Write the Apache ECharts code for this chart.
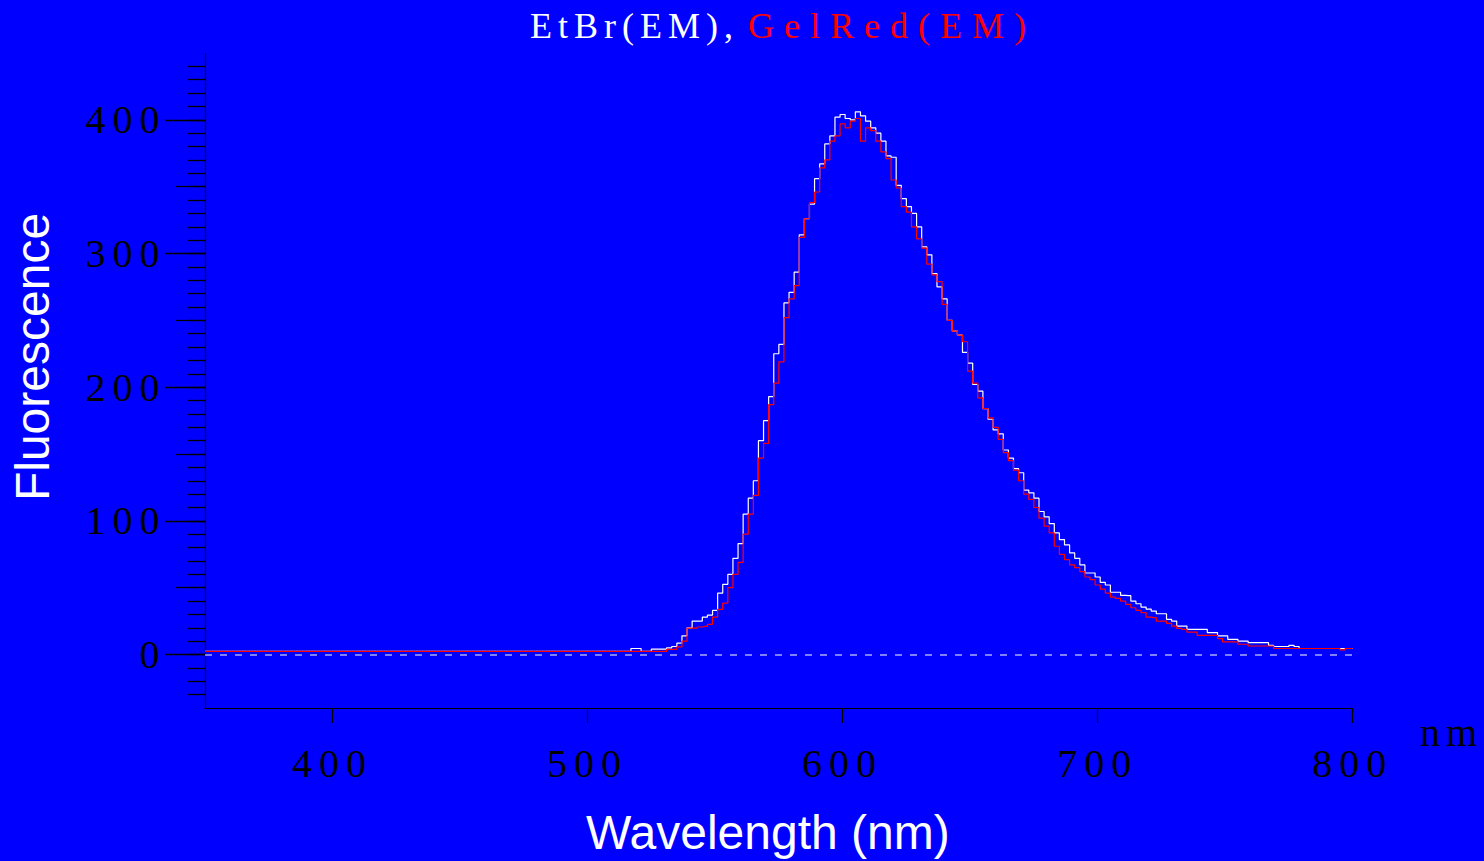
<!DOCTYPE html>
<html>
<head>
<meta charset="utf-8">
<script src="https://cdn.jsdelivr.net/npm/echarts@6/dist/echarts.min.js"></script>
<style>
  html, body { margin: 0; padding: 0; background: #0000ff; }
  #chart { width: 1484px; height: 861px; }
</style>
</head>
<body>
<div id="chart"></div>
<script>
// Wavelength sample positions (nm)
const wavelengths = [
  350,
  516,518,520,522,524,526,528,530,532,534,
  536,538,540,542,544,546,548,550,552,554,
  556,558,560,562,564,566,568,570,572,574,
  576,578,580,582,584,586,588,590,592,594,
  596,598,600,602,604,606,608,610,612,614,
  616,618,620,622,624,626,628,630,632,634,
  636,638,640,642,644,646,648,650,652,654,
  656,658,660,662,664,666,668,670,672,674,
  676,678,680,682,684,686,688,690,692,694,
  696,698,700,702,704,706,708,710,712,714,
  716,718,720,722,724,726,728,730,732,734,
  736,738,740,742,744,746,748,750,752,754,
  756,758,760,762,764,766,768,770,772,774,
  776,778,780,782,784,786,788,790,792,794,
  796,798,800
];
// EtBr (EM) fluorescence, white trace
const etbr = [
  2.3,
  2.3,4.5,4.5,2.3,2.3,4,4,4,5,6,
  8.5,14,20,25,25,28,29.5,33,46,52.5,
  60,72,83,105,117,130,160,175,193,225,
  232,263,271,286,314,326,337,356,367,382,
  388,402,404,401,400,406,403,399,394,390,
  384,373,372,351,341,335,330,320,305,299,
  285,275,266,250,242,239,226,218,202,197,
  184,176,168,165,153,147,139,136,123,121,
  117,107,103,98,91,86,82,76,72,67,
  61,61,58,54,52,46.6,46.6,44.2,44,40,
  38,35.5,34,32.5,30.5,30.5,26.3,25,21.3,21.3,
  18.8,18.8,18.8,18.8,16.4,16.4,13.9,13.9,11.4,11.4,
  10.1,10.1,8.9,8.9,8.9,8.9,6.9,6,6,6,
  6.9,6,4.5,4.5,4.5,4.5,4.5,4.5,4.5,4.5,
  4.5,4.5,4.5
];
// GelRed (EM) fluorescence, red trace
const gelred = [
  2.3,
  2.3,2.3,2.3,2.3,2.3,2.3,2.3,2.3,3.8,3.8,
  5.7,10,19.7,19.7,20.6,21,22.6,28,33.8,38.5,
  50,60,69,90,105,119,147,158,187,203,
  219,252,266,276,312,326,338,346,364,370,
  384,388,397,394,399,401,384,394,392,384,
  376,371,355,349,335,331,320,311,304,292,
  284,279,262,250,242,239,234,212,203,192,
  184,177,170,161,151,145,138,130,120,116,
  110,102,96,91,81,75,71,67,65,62,
  58,56,52,49,46,43,42,40,37.5,35,
  33,31.3,28,27.6,25,25,23.3,21.3,19.5,18.8,
  16.8,16.8,14.4,14.4,14.4,14.4,11.9,9.4,9.4,9.4,
  7.7,7.7,6.4,6.4,6.4,6.4,6.4,4.5,4.5,4.5,
  4.5,4.5,4.5,4.5,4.5,4.5,4.5,4.5,4.5,4.5,
  3.5,4.5,4.5
];
const xTickLabels = [400, 500, 600, 700, 800];
const yTickLabels = [0, 100, 200, 300, 400];
const yMediumTicks = [50, 150, 250, 350];
const yMinorTicks = [];
for (let v = -30; v <= 440; v += 10) yMinorTicks.push(v);

const Y_MIN = -40, Y_MAX = 450;
const serif = 'Liberation Serif';
const sans = 'Liberation Sans';

const chart = echarts.init(document.getElementById('chart'), null, { renderer: 'svg' });

const baseY = {
  type: 'value', min: Y_MIN, max: Y_MAX, position: 'left',
  splitLine: { show: false }
};

const option = {
  backgroundColor: '#0000ff',
  animation: false,
  title: [
    { text: 'EtBr(EM),', left: 530, top: 8, padding: 0,
      textStyle: { color: '#ffffff', fontFamily: serif, fontSize: 36, fontWeight: 'normal' } },
    { text: 'GelRed(EM)', left: 748, top: 8, padding: 0,
      textStyle: { color: '#ff0000', fontFamily: serif, fontSize: 36, fontWeight: 'normal' } }
  ],
  grid: { left: 205, right: 131.3, top: 53, bottom: 150, containLabel: false },
  xAxis: {
    type: 'value', min: 350, max: 800,
    name: 'Wavelength (nm)', nameLocation: 'middle', nameGap: 100,
    nameTextStyle: { color: '#ffffff', fontFamily: sans, fontSize: 48, padding: [0, 22, 0, 0] },
    axisLine: { show: true, onZero: false, lineStyle: { color: '#000000', width: 1.2 } },
    axisTick: { show: true, customValues: xTickLabels, length: 15, inside: false,
      lineStyle: { color: '#000000', width: 1.2 } },
    axisLabel: { show: true, customValues: xTickLabels, margin: 35,
      color: '#000000', fontFamily: serif, fontSize: 40 },
    splitLine: { show: false }
  },
  yAxis: [
    Object.assign({}, baseY, {
      name: 'Fluorescence', nameLocation: 'middle', nameGap: 149, nameRotate: 90,
      nameTextStyle: { color: '#ffffff', fontFamily: sans, fontSize: 48, padding: [0, 0, 0, 47] },
      axisLine: { show: true, lineStyle: { color: '#000000', width: 1.2 } },
      axisTick: { show: true, customValues: yTickLabels, length: 40,
        lineStyle: { color: '#000000', width: 1.3 } },
      axisLabel: { show: true, customValues: yTickLabels, margin: 38.5,
        color: '#000000', fontFamily: serif, fontSize: 40 }
    }),
    Object.assign({}, baseY, {
      axisLine: { show: false },
      axisTick: { show: true, customValues: yMediumTicks, length: 29,
        lineStyle: { color: '#000000', width: 1.2 } },
      axisLabel: { show: false }
    }),
    Object.assign({}, baseY, {
      axisLine: { show: false },
      axisTick: { show: true, customValues: yMinorTicks, length: 17,
        lineStyle: { color: '#000000', width: 1.3 } },
      axisLabel: { show: false }
    })
  ],
  series: [
    {
      name: 'EtBr(EM)', type: 'line', step: 'middle', yAxisIndex: 0,
      data: wavelengths.map((w, i) => [w, etbr[i]]),
      showSymbol: false, symbol: 'none',
      lineStyle: { color: '#ffffff', width: 1.2 },
      markLine: {
        silent: true, symbol: 'none', label: { show: false },
        lineStyle: { color: 'rgba(255,255,255,0.5)', type: [7, 8], width: 1.8 },
        data: [{ yAxis: 0 }]
      },
      z: 2
    },
    {
      name: 'GelRed(EM)', type: 'line', step: 'middle', yAxisIndex: 0,
      data: wavelengths.map((w, i) => [w, gelred[i]]),
      showSymbol: false, symbol: 'none',
      lineStyle: { color: '#ff0000', width: 1.2 },
      z: 3
    }
  ],
  graphic: [
    { type: 'text', left: 1420, top: 712,
      style: { text: 'nm', fill: '#000000', font: '40px "Liberation Serif"' } }
  ]
};

chart.setOption(option);

const spacing = {
  'EtBr(EM),': 6, 'GelRed(EM)': 10, 'nm': 6,
  '0': 7, '100': 7, '200': 7, '300': 7, '400': 7, '500': 7, '600': 7, '700': 7, '800': 7
};
function applySpacing() {
  document.querySelectorAll('#chart svg text').forEach(t => {
    const s = spacing[t.textContent];
    if (s != null) t.setAttribute('letter-spacing', s + 'px');
  });
}
chart.on('finished', applySpacing);
chart.on('rendered', applySpacing);
setTimeout(applySpacing, 0);
setTimeout(applySpacing, 100);
</script>
</body>
</html>
